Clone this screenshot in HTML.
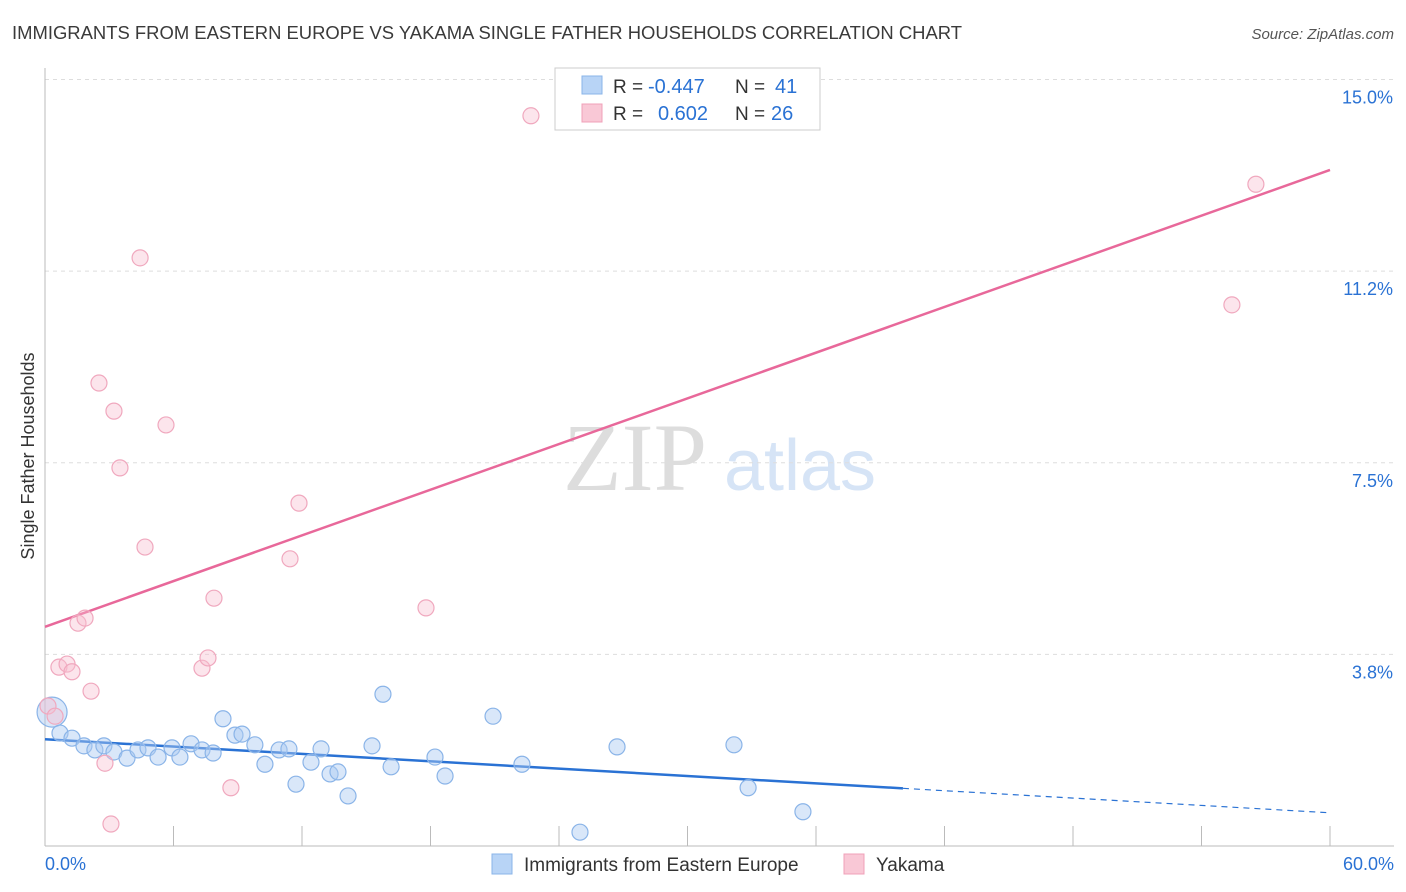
<!DOCTYPE html>
<html><head><meta charset="utf-8"><style>
body{margin:0;background:#fff;font-family:"Liberation Sans",sans-serif;}
svg{display:block}
</style></head><body>
<svg id="chart" width="1406" height="892" xmlns="http://www.w3.org/2000/svg">
<text x="12" y="39" font-size="18" fill="#3a3a3a" textLength="950" lengthAdjust="spacingAndGlyphs">IMMIGRANTS FROM EASTERN EUROPE VS YAKAMA SINGLE FATHER HOUSEHOLDS CORRELATION CHART</text>
<text x="1394" y="39" font-size="15" fill="#555" font-style="italic" text-anchor="end">Source: ZipAtlas.com</text>
<g><text x="635" y="490" font-size="96" font-family="Liberation Serif,serif" fill="#ddd" text-anchor="middle">ZIP</text><text x="800" y="490" font-size="72" fill="#d6e4f6" text-anchor="middle">atlas</text></g>
<g id="grid"></g>
<g id="axes"></g>
<g id="lines"></g>
<g id="points"></g>
<text transform="translate(34,456) rotate(-90)" font-size="18" fill="#333" text-anchor="middle">Single Father Households</text>
<g>
<rect x="555" y="68" width="265" height="62" fill="#fff" stroke="#ccc"/>
<rect x="582" y="76" width="20" height="18" fill="#b8d4f6" stroke="#8ab4e8"/>
<rect x="582" y="104" width="20" height="18" fill="#f9c8d6" stroke="#f0a0b8"/>
<text x="613" y="93" font-size="19" fill="#333">R =</text>
<text x="648" y="93" font-size="20" fill="#2a72d4">-0.447</text>
<text x="735" y="93" font-size="19" fill="#333">N =</text>
<text x="775" y="93" font-size="20" fill="#2a72d4">41</text>
<text x="613" y="120" font-size="19" fill="#333">R =</text>
<text x="658" y="120" font-size="20" fill="#2a72d4">0.602</text>
<text x="735" y="120" font-size="19" fill="#333">N =</text>
<text x="771" y="120" font-size="20" fill="#2a72d4">26</text>
</g>
<g>
<rect x="492" y="854" width="20" height="20" fill="#b8d4f6" stroke="#8ab4e8"/>
<text x="524" y="871" font-size="19" fill="#333">Immigrants from Eastern Europe</text>
<rect x="844" y="854" width="20" height="20" fill="#f9c8d6" stroke="#f0a0b8"/>
<text x="876" y="871" font-size="19" fill="#333">Yakama</text>
</g>
</svg>
<script>
const blueX=[0.33,0.70,1.26,1.82,2.33,2.75,3.22,3.83,4.34,4.81,5.28,5.93,6.30,6.82,7.33,7.85,8.31,8.87,9.20,9.80,10.27,10.93,11.39,11.72,12.42,12.89,13.31,13.68,14.15,15.27,15.78,16.16,18.21,18.68,20.92,22.27,24.98,26.71,32.17,32.83,35.39];
const blueY=[2.62,2.21,2.11,1.96,1.88,1.96,1.84,1.72,1.88,1.92,1.74,1.92,1.74,2.00,1.88,1.82,2.49,2.17,2.19,1.98,1.60,1.88,1.90,1.21,1.64,1.90,1.41,1.45,0.98,1.96,2.97,1.55,1.74,1.37,2.54,1.60,0.27,1.94,1.98,1.14,0.67];
const pinkX=[0.14,0.47,0.65,1.03,1.26,1.54,1.87,2.15,2.52,2.80,3.08,3.22,3.50,4.44,4.67,5.65,7.33,7.61,7.89,8.68,11.44,11.86,17.79,22.69,55.42,56.54];
const pinkY=[2.74,2.54,3.50,3.56,3.41,4.36,4.46,3.03,9.06,1.62,0.43,8.51,7.40,11.51,5.85,8.24,3.48,3.68,4.85,1.14,5.62,6.71,4.66,14.29,10.59,12.95];
const blueTrend=[2.09,0.65];
const blueSolidEnd=40.06;
const pinkTrend=[4.29,13.23];
const yTicks=[3.75,7.5,11.25,15];
const yTickLabels=["3.8%","7.5%","11.2%","15.0%"];
const xTicks=[0,6,12,18,24,30,36,42,48,54,60];
const xEndLabels=["0.0%","60.0%"];

const X=v=>45+v*1285/60, Y=v=>846-v*51.1;
const NS="http://www.w3.org/2000/svg";
function mk(parent,tag,attrs){const e=document.createElementNS(NS,tag);for(const k in attrs)e.setAttribute(k,attrs[k]);document.getElementById(parent).appendChild(e);return e;}
yTicks.forEach((t,i)=>{
 const l=mk('grid','line',{x1:45,x2:1394,y1:Y(t),y2:Y(t),stroke:'#ddd','stroke-dasharray':'4,4'});
 
 
 const tx=mk('grid','text',{x:1393,y:Y(t)+24,'font-size':18,fill:'#2a72d4','text-anchor':'end'});
 tx.textContent=yTickLabels[i];
 
 
});
const ax=mk('axes','line',{x1:45,x2:45,y1:68,y2:846,stroke:'#bbb'});


const bx=mk('axes','line',{x1:45,x2:1394,y1:846,y2:846,stroke:'#bbb'});


xTicks.forEach(t=>{
 const l=mk('axes','line',{x1:X(t),x2:X(t),y1:826,y2:846,stroke:'#bbb'});
 
 
});
[[0,'start',45],[60,'end',1394]].forEach((a,i)=>{
 const tx=mk('axes','text',{x:a[2],y:870,'font-size':18,fill:'#2a72d4','text-anchor':a[1]});
 tx.textContent=xEndLabels[i];
 
 
});
const bY=x=>blueTrend[0]+(blueTrend[1]-blueTrend[0])*x/60;
let l1=mk('lines','line',{x1:X(0),y1:Y(bY(0)),x2:X(blueSolidEnd),y2:Y(bY(blueSolidEnd)),stroke:'#2a72d4','stroke-width':2.5});


let l2=mk('lines','line',{x1:X(blueSolidEnd),y1:Y(bY(blueSolidEnd)),x2:X(60),y2:Y(bY(60)),stroke:'#2a72d4','stroke-width':1.2,'stroke-dasharray':'6,5'});


let l3=mk('lines','line',{x1:X(0),y1:Y(pinkTrend[0]),x2:X(60),y2:Y(pinkTrend[1]),stroke:'#e8689a','stroke-width':2.5});


blueX.forEach((x,i)=>{
 const c=mk('points','circle',{cx:X(x),cy:Y(blueY[i]),r:i===0?15:8,fill:'rgba(170,202,242,0.45)',stroke:'#8ab4e8','stroke-width':1.2});
 
 
});
pinkX.forEach((x,i)=>{
 const c=mk('points','circle',{cx:X(x),cy:Y(pinkY[i]),r:8,fill:'rgba(248,190,208,0.4)',stroke:'#f0a8be','stroke-width':1.2});
 
 
});
</script>
</body></html>
